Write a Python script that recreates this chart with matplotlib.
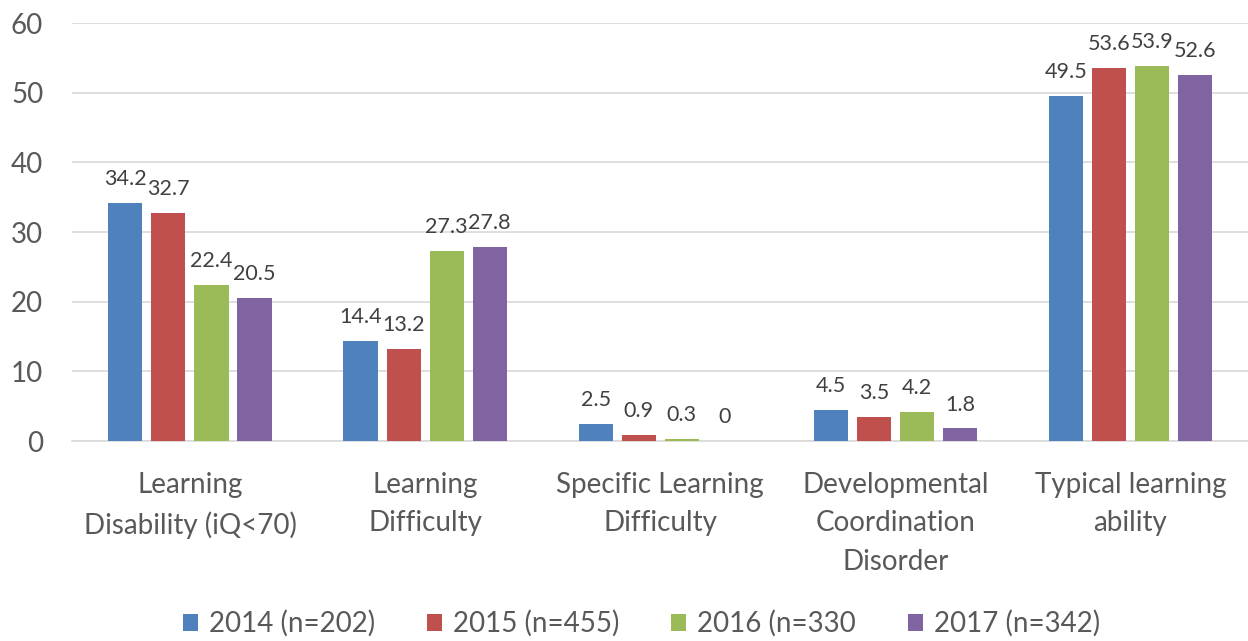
import matplotlib.pyplot as plt
import numpy as np

plt.rcParams['font.family'] = ['Lato', 'DejaVu Sans']

categories = ['Learning\nDisability (iQ<70)', 'Learning\nDifficulty',
              'Specific Learning\nDifficulty', 'Developmental\nCoordination\nDisorder',
              'Typical learning\nability']
series_labels = ['2014 (n=202)', '2015 (n=455)', '2016 (n=330', '2017 (n=342)']
v2014 = [34.2, 14.4, 2.5, 4.5, 49.5]
v2015 = [32.7, 13.2, 0.9, 3.5, 53.6]
v2016 = [22.4, 27.3, 0.3, 4.2, 53.9]
v2017 = [20.5, 27.8, 0, 1.8, 52.6]
colors = ['#4f81bd', '#c0504d', '#9bbb59', '#8064a2']

fig = plt.figure(figsize=(12.48, 6.41), dpi=100)
ax = fig.add_axes([0.058, 0.312, 0.942, 0.652])

x = np.arange(len(categories))
step = 0.183
width = 0.145
for i, (vals, lab, c) in enumerate(zip([v2014, v2015, v2016, v2017], series_labels, colors)):
    pos = x + (i - 1.5) * step
    ax.bar(pos, vals, width, color=c, label=lab, zorder=3)
    for p, v in zip(pos, vals):
        ax.text(p, v + 2.0, f'{v:g}', ha='center', va='bottom', fontsize=15.5, color='#404040')

ax.set_xlim(-0.5, 4.5)
ax.set_ylim(0, 60)
ax.set_yticks(range(0, 61, 10))
ax.grid(axis='y', color='#d9d9d9', linewidth=1.2, zorder=0)
for s in ['top', 'right', 'left']:
    ax.spines[s].set_visible(False)
ax.spines['bottom'].set_color('#d9d9d9')
ax.spines['bottom'].set_linewidth(1.2)
ax.tick_params(axis='both', length=0, labelsize=20, colors='#595959')
ax.tick_params(axis='y', pad=21)
ax.tick_params(axis='x', pad=22)
ax.set_xticks(x)
ax.set_xticklabels(categories, linespacing=1.6)

fig.legend(loc='center', bbox_to_anchor=(0.514, 0.027), ncol=4, frameon=False,
           fontsize=20, handlelength=0.55, handleheight=0.55, handletextpad=0.4,
           columnspacing=1.85, labelcolor='#595959')

fig.savefig('out.png', dpi=100)
